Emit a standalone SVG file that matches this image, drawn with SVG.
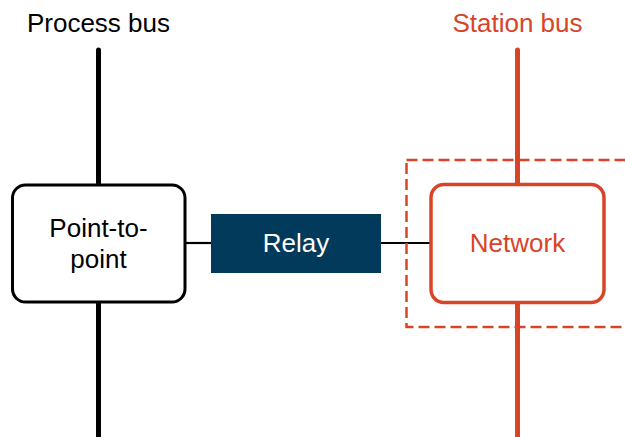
<svg xmlns="http://www.w3.org/2000/svg" width="625" height="437" viewBox="0 0 625 437">
<style>
text{font-family:"Liberation Sans",Arial,sans-serif;font-size:26px;text-anchor:middle}
.blk{fill:#000}
.org{fill:#D84427}
.bus{fill:none;stroke-width:5;stroke-linecap:round}
.conn{stroke:#000;stroke-width:2.2;fill:none}
</style>
<rect width="625" height="437" fill="#fff"/>
<g id="connectors">
<line class="bus" x1="98.5" y1="50" x2="98.5" y2="445" stroke="#000"/>
<line class="bus" x1="517.5" y1="50" x2="517.5" y2="445" stroke="#D84427"/>
<line class="conn" x1="185" y1="243" x2="211" y2="243"/>
<line class="conn" x1="381" y1="243" x2="431" y2="243"/>
</g>
<g id="process-bus-label"><text class="blk" x="98.5" y="32">Process bus</text></g>
<g id="station-bus-label"><text class="org" x="517.5" y="32">Station bus</text></g>
<g id="point-to-point">
<rect x="12.5" y="185" width="172.5" height="117" rx="13" fill="#fff" stroke="#000" stroke-width="3"/>
<text class="blk" x="98.5" y="237">Point-to-</text>
<text class="blk" x="98.5" y="268">point</text>
</g>
<g id="relay">
<rect x="211" y="214" width="170" height="59" fill="#023A5C"/>
<text x="296" y="252" fill="#fff">Relay</text>
</g>
<g id="network-boundary">
<rect x="406.5" y="160" width="240" height="167" fill="none" stroke="#D84427" stroke-width="2.5" stroke-dasharray="11 5"/>
</g>
<g id="network">
<rect x="431" y="184.5" width="173" height="118" rx="13" fill="#fff" stroke="#D84427" stroke-width="3.5"/>
<text class="org" x="517.5" y="252">Network</text>
</g>
</svg>
